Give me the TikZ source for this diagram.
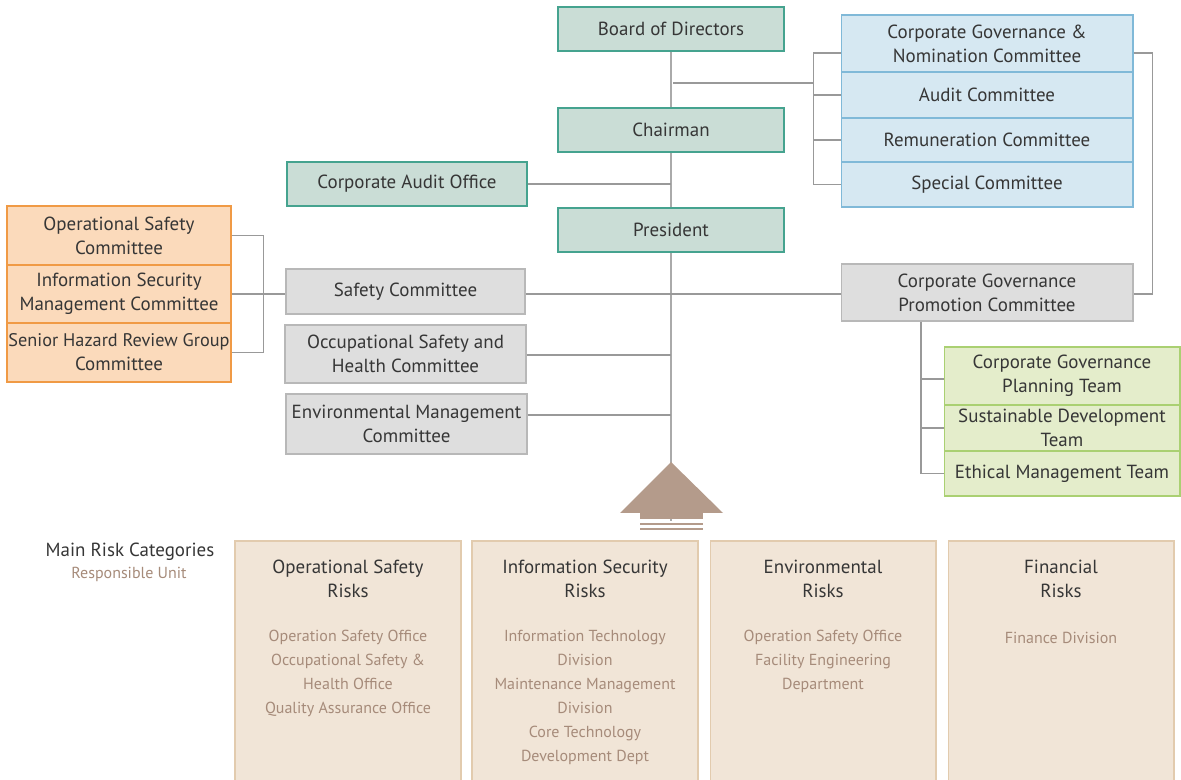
\documentclass[tikz,border=0pt]{standalone}
\usepackage{fontspec}
\setmainfont{PT Sans}
\usetikzlibrary{calc}
\definecolor{txt}{HTML}{363636}
\definecolor{unit}{HTML}{A68B7A}
\definecolor{line}{HTML}{999999}
\definecolor{spinec}{HTML}{AAAAAA}
\definecolor{tealF}{HTML}{CADDD6}
\definecolor{tealD}{HTML}{45A38F}
\definecolor{blueF}{HTML}{D6E8F2}
\definecolor{blueD}{HTML}{80B9D8}
\definecolor{greyF}{HTML}{DEDEDE}
\definecolor{greyD}{HTML}{B8B8B8}
\definecolor{orgF}{HTML}{FBDABB}
\definecolor{orgD}{HTML}{F09A45}
\definecolor{grnF}{HTML}{E4EDCB}
\definecolor{grnD}{HTML}{AAD072}
\definecolor{riskF}{HTML}{F1E5D7}
\definecolor{riskD}{HTML}{E2CBAE}
\definecolor{arrowc}{HTML}{B49B8B}
\newcommand\mainfs{\fontsize{10.8pt}{13.6pt}\selectfont}
\newcommand\unitfs{\fontsize{9.1pt}{13.6pt}\selectfont}
\newcommand\tightfs{\fontsize{10.4pt}{13.6pt}\selectfont}
\begin{document}
\begin{tikzpicture}[x=0.02cm,y=-0.02cm,
  box/.style={draw, line width=0.6pt, inner sep=0pt, align=center, text=txt, font=\mainfs},
  teal/.style={box, fill=tealF, draw=tealD, minimum width=4.52cm, minimum height=0.88cm},
  blue/.style={box, fill=blueF, draw=blueD, minimum width=5.84cm},
  grey/.style={box, fill=greyF, draw=greyD},
  orange/.style={box, fill=orgF, draw=orgD, minimum width=4.48cm},
  green/.style={box, fill=grnF, draw=grnD, minimum width=4.72cm},
  risk/.style={draw=riskD, fill=riskF, line width=0.6pt, minimum width=4.52cm, minimum height=4.98cm, inner sep=0pt},
  rtitle/.style={align=center, text=txt, font=\mainfs, inner sep=0pt},
  runit/.style={align=center, text=unit, font=\unitfs, inner sep=0pt},
  conn/.style={draw=line, line width=0.6pt},
  spine/.style={draw=spinec, line width=1.1pt}]
\useasboundingbox (0,0) rectangle (1181,780);

% main chain
\node[teal] (board) at (671,29) {Board of Directors};
\node[teal] (chair) at (671,130) {Chairman};
\node[teal] (pres) at (671,230) {President};
\node[box, fill=tealF, draw=tealD, minimum width=4.8cm, minimum height=0.88cm] (cao) at (407,184) {Corporate Audit Office};

% board committees
\node[blue, minimum height=1.14cm] (cgnc) at (987,43.5) {Corporate Governance \&\\Nomination Committee};
\node[blue, minimum height=0.92cm] (aud) at (987,95) {Audit Committee};
\node[blue, minimum height=0.88cm] (rem) at (987,140) {Remuneration Committee};
\node[blue, minimum height=0.90cm] (spec) at (987,184.5) {Special Committee};

% management committees
\node[grey, minimum width=5.84cm, minimum height=1.14cm] (cgpc) at (987,292.5) {Corporate Governance\\Promotion Committee};
\node[grey, minimum width=4.78cm, minimum height=0.90cm] (safety) at (405.5,291.5) {Safety Committee};
\node[grey, minimum width=4.82cm, minimum height=1.16cm] (oshc) at (405.5,354) {Occupational Safety and\\Health Committee};
\node[grey, minimum width=4.82cm, minimum height=1.20cm] (emc) at (406.5,424) {Environmental Management\\Committee};

% safety sub-committees
\node[orange, minimum height=1.18cm] (osc) at (119,235.5) {Operational Safety\\Committee};
\node[orange, minimum height=1.16cm] (ismc) at (119,294) {Information Security\\Management Committee};
\node[orange, minimum height=1.18cm] (shrg) at (119,352.5) {\makebox[4.3cm]{\tightfs Senior Hazard Review Group}\\Committee};

% governance teams
\node[green, minimum height=1.16cm] (cgpt) at (1062,376) {Corporate Governance\\Planning Team};
\node[green, minimum height=0.92cm] (sdt) at (1062,428) {Sustainable Development\\Team};
\node[green, minimum height=0.90cm] (emt) at (1062,473.5) {Ethical Management Team};

% spine
\coordinate (spend) at (671,521);
\draw[spine] (board.south) -- (chair.north);
\draw[spine] (chair.south) -- (pres.north);
\draw[spine] (pres.south) -- (spend);

% board committee bracket
\coordinate (bjs) at (673,83);
\coordinate (bj) at (814,83);
\draw[conn] (bjs) -- (bj);
\draw[conn] ($(cgnc.west)+(0,9.5)$) -- ++(-27,0) |- (spec.west);
\draw[conn] (aud.west) -- ++(-27,0);
\draw[conn] (rem.west) -- ++(-27,0);
\draw[conn] ($(cgnc.east)+(0,9.5)$) -- ++(19,0) |- ($(cgpc.east)+(0,1.5)$);

% management committee links
\draw[conn] (cao.east) -- (chair.south |- cao.east);
\draw[conn] (safety.east |- 0,294) -- (cgpc.west |- 0,294);
\draw[conn] (oshc.east |- 0,355) -- (pres.south |- 0,355);
\draw[conn] (emc.east |- 0,415) -- (pres.south |- 0,415);

% safety sub-committee bracket
\draw[conn] (osc.east) -- ++(32,0) |- (shrg.east);
\draw[conn] (ismc.east) -- (safety.west |- ismc.east);

% governance team bracket
\draw[conn] (cgpc.south -| 921,0) |- (emt.west);
\draw[conn] ($(cgpt.west)+(0,3)$) -- ++(-23,0);
\draw[conn] (sdt.west) -- ++(-23,0);

% upward arrow
\fill[arrowc] (671,462) -- (723,513) -- (620,513) -- cycle;
\fill[arrowc] (640,512) rectangle (703,519.5);
\fill[arrowc] (640,523) rectangle (703,524.6);
\fill[arrowc] (640,528) rectangle (703,529.6);

% risk categories
\node[rtitle] (mrc) at (130,552) {Main Risk Categories};
\node[runit] (ru) at (129,574) {Responsible Unit};

\node[risk] (r1) at (348,665.5) {};
\node[risk] (r2) at (585,665.5) {};
\node[risk] (r3) at (823,665.5) {};
\node[risk] (r4) at (1061,665.5) {};

\node[rtitle] (t1) at ($(r1.north)+(0,38)$) {Operational Safety\\Risks};
\node[rtitle] (t2) at ($(r2.north)+(0,38)$) {Information Security\\Risks};
\node[rtitle] (t3) at ($(r3.north)+(0,38)$) {Environmental\\Risks};
\node[rtitle] (t4) at ($(r4.north)+(0,38)$) {Financial\\Risks};

\node[runit] (u1) at ($(r1.north)+(0,133)$) {Operation Safety Office\\Occupational Safety \&\\Health Office\\Quality Assurance Office};
\node[runit] (u2) at ($(r2.north)+(0,157)$) {Information Technology\\Division\\Maintenance Management\\Division\\Core Technology\\Development Dept};
\node[runit] (u3) at ($(r3.north)+(0,121)$) {Operation Safety Office\\Facility Engineering\\Department};
\node[runit] (u4) at ($(r4.north)+(0,97)$) {Finance Division};
\end{tikzpicture}
\end{document}
